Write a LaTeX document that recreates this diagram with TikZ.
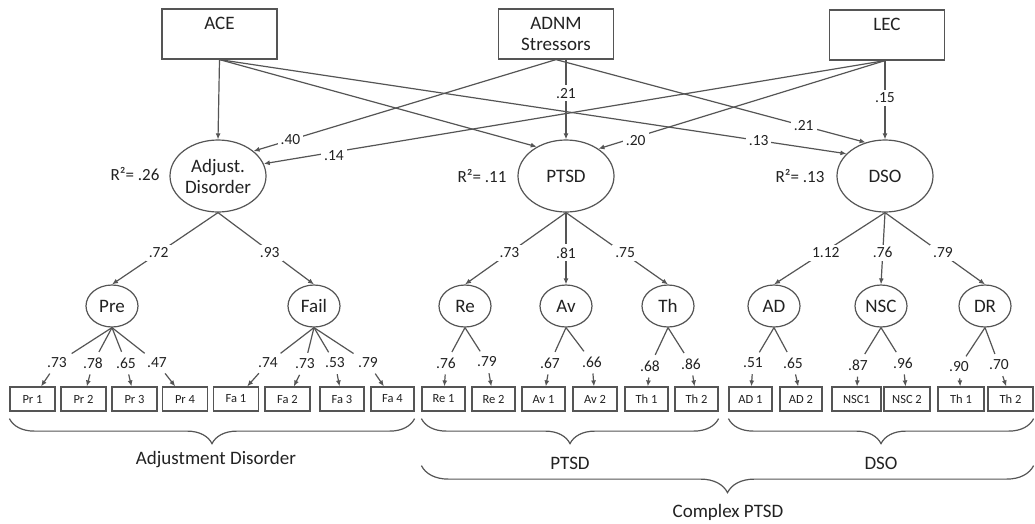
\documentclass[tikz,border=0pt]{standalone}
\usepackage{fontspec}
\setmainfont{Carlito}
\usetikzlibrary{shapes.geometric,arrows.meta,decorations.pathreplacing,calc}
\definecolor{lc}{HTML}{555555}
\definecolor{tc}{HTML}{222222}
\tikzset{
  ln/.style={draw=lc, line width=1.2pt},
  arr/.style={ln, -{Latex[length=6pt,width=5pt]}},
  topbox/.style={draw=lc, line width=1.2pt, minimum width=115pt, minimum height=50pt, inner sep=0pt, align=center, text=tc, font=\fontsize{19}{21}\selectfont},
  bigell/.style={ellipse, draw=lc, line width=1.2pt, minimum width=96pt, minimum height=72pt, inner sep=0pt, align=center, text=tc, font=\fontsize{19}{21}\selectfont},
  smell/.style={ellipse, draw=lc, line width=1.2pt, minimum width=52pt, minimum height=42pt, inner sep=0pt, text=tc, font=\fontsize{19}{21}\selectfont},
  ind/.style={draw=lc, line width=1.2pt, minimum height=24pt, inner sep=0pt, text=tc, font=\fontsize{12.5}{14}\selectfont},
  coef/.style={inner sep=2pt, text=tc, font=\fontsize{15.5}{17}\selectfont},
  pcoef/.style={coef, fill=white, inner sep=3pt},
  rsq/.style={text=tc, font=\fontsize{17}{19}\selectfont},
  blab/.style={text=tc, font=\fontsize{19}{21}\selectfont},
  brc/.style={ln, decorate, decoration={brace, mirror, amplitude=#1}},
  brc/.default=25pt
}
\begin{document}
\begin{tikzpicture}[x=1pt, y=-1pt]
\fill[white] (0,0) rectangle (1035,523);
\useasboundingbox (0,0) rectangle (1035,523);

% exogenous boxes
\node[topbox] (ace)  at (219.5,34) {ACE\\\mbox{}};
\node[topbox] (adnm) at (556,34)   {ADNM\\Stressors};
\node[topbox] (lec)  at (887,35)   {LEC\\\mbox{}};

% main latents
\node[bigell] (adj)  at (218,176) {Adjust.\\Disorder};
\node[bigell] (ptsd) at (566,176) {PTSD};
\node[bigell] (dso)  at (885,176) {DSO};

\node[rsq] (r2a) at (135,174) {R²= .26};
\node[rsq] (r2b) at (482,176) {R²= .11};
\node[rsq] (r2c) at (800,176) {R²= .13};

% structural paths
\draw[arr] (ace.south) -- (adj.north);
\draw[arr] (ace.south) -- (ptsd.135);
\draw[arr] (ace.south) -- node[pcoef, pos=0.86] (c13) {.13} (dso.150);
\draw[arr] (adnm.south) -- node[pcoef, pos=0.878] (c40) {.40} (adj.35);
\draw[arr] (adnm.south -| ptsd.north) -- node[pcoef, pos=0.42] (c21a) {.21} (ptsd.north);
\draw[arr] (adnm.south) -- node[pcoef, pos=0.80] (c21b) {.21} (dso.120);
\draw[arr] (lec.south -| dso.north) -- node[pcoef, pos=0.475] (c15) {.15} (dso.north);
\draw[arr] (lec.south -| dso.north) -- node[pcoef, pos=0.887, yshift=-3pt] (c14) {.14} (adj.15);
\draw[arr] (lec.south -| dso.north) -- node[pcoef, pos=0.87, yshift=-3pt] (c20) {.20} (ptsd.40);

% first-order latents
\node[smell] (pre)  at (112,306) {Pre};
\node[smell] (fail) at (314,306) {Fail};
\node[smell] (re)   at (465,306) {Re};
\node[smell] (av)   at (566,306) {Av};
\node[smell] (th)   at (668,306) {Th};
\node[smell] (ad)   at (774,306) {AD};
\node[smell] (nsc)  at (881,306) {NSC};
\node[smell] (dr)   at (985,306) {DR};

% second-order loadings
\draw[arr] (adj.south)  -- node[pcoef, pos=0.56] {.72} (pre.north);
\draw[arr] (adj.south)  -- node[pcoef, pos=0.56, xshift=-2pt] {.93} (fail.north);
\draw[arr] (ptsd.south) -- node[pcoef, pos=0.56] {.73} (re.north);
\draw[arr] (ptsd.south) -- node[pcoef, pos=0.56] {.81} (av.north);
\draw[arr] (ptsd.south) -- node[pcoef, pos=0.56, xshift=2pt] {.75} (th.north);
\draw[arr] (dso.south)  -- node[pcoef, pos=0.56, xshift=3pt] {1.12} (ad.north);
\draw[arr] (dso.south)  -- node[pcoef, pos=0.56] {.76} (nsc.north);
\draw[arr] (dso.south)  -- node[pcoef, pos=0.56, xshift=2pt] {.79} (dr.north);

% indicator boxes
\foreach \n/\x/\w/\t in {pr1/32.5/45/Pr 1, pr2/83.5/45/Pr 2, pr3/134.5/45/Pr 3, pr4/185/45/Pr 4,
  fa1/236/45/Fa 1, fa2/287.5/45/Fa 2, fa3/342/44/Fa 3, fa4/392.5/43/Fa 4,
  re1/443.5/43/Re 1, re2/493.5/43/Re 2, av1/543.5/43/Av 1, av2/595/44/Av 2,
  th1/646.5/43/Th 1, th2/696.5/43/Th 2, ad1/750.5/43/AD 1, ad2/801/42/AD 2,
  nsc1/856.5/49/NSC1, nsc2/907/46/NSC 2, thb1/961/46/Th 1, thb2/1010.5/45/Th 2}
  \node[ind, minimum width=\w pt] (\n) at (\x,399) {\t};

% indicator loadings
\foreach \l/\k/\x/\y/\t/\b in {pre/k1/57/363/.73/pr1, pre/k2/93/363/.78/pr2, pre/k3/126/363/.65/pr3, pre/k4/157/363/.47/pr4,
  fail/k5/268/363/.74/fa1, fail/k6/305/364/.73/fa2, fail/k7/335/363/.53/fa3, fail/k8/368/363/.79/fa4,
  re/k9/446/363/.76/re1, re/k10/487/362/.79/re2, av/k11/550/363/.67/av1, av/k12/592/362/.66/av2,
  th/k13/650/366/.68/th1, th/k14/691/364/.86/th2, ad/k15/753/363/.51/ad1, ad/k16/793/363/.65/ad2,
  nsc/k17/858/365/.87/nsc1, nsc/k18/903/363/.96/nsc2, dr/k19/959/367/.90/thb1, dr/k20/999/365/.70/thb2}
{
  \node[coef] (\k) at (\x,\y) {\t};
  \draw[ln, shorten >=4pt] (\l.south) -- (\k);
  \draw[arr, shorten <=4pt] (\k) -- (\b);
}

% braces and group labels
\draw[brc] ([yshift=-7pt]pr1.south west) -- ([yshift=-7pt]fa4.south east);
\draw[brc] ([yshift=-7pt]re1.south west) -- ([yshift=-7pt]th2.south east);
\draw[brc] ([yshift=-7pt]ad1.south west) -- ([yshift=-7pt]thb2.south east);
\draw[brc=27pt] ([yshift=-54pt]re1.south west) -- ([yshift=-54pt]thb2.south east);

\node[blab] (tadj)  at (216,460) {Adjustment Disorder};
\node[blab] (tptsd) at (570,463) {PTSD};
\node[blab] (tdso)  at (881,463) {DSO};
\node[blab] (tcx)   at (728,512) {Complex PTSD};
\end{tikzpicture}
\end{document}
